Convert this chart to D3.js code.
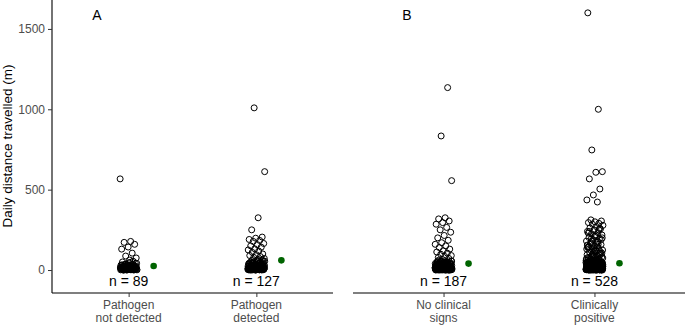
<!DOCTYPE html>
<html>
<head>
<meta charset="utf-8">
<script src="https://cdn.jsdelivr.net/npm/d3@7"></script>
<style>
  body { margin: 0; background: #fff; }
  svg { display: block; font-family: "Liberation Sans", Arial, sans-serif; }
</style>
</head>
<body>
<div id="chart"></div>
<script>
// categories per panel
const panelA = ["Pathogen\nnot detected", "Pathogen\ndetected"];
const panelB = ["No clinical\nsigns", "Clinically\npositive"];
const panelLabels = ["A", "B"];
const sampleSizes = [89, 127, 187, 528];
const groupMeans = [25, 60, 40, 42];
const yTicks = [0, 500, 1000, 1500];

// daily distance values (m); the dense low values are estimated
const notDetected = [567, 178, 172, 160, 143, 130, 105, 87, 75, 62,
  0, 0, 1, 1, 2, 2, 3, 3, 4, 4, 5, 5, 6, 6, 7, 7, 8, 8, 9, 9, 10, 10, 11, 12, 13, 14, 15, 16, 17, 18,
  19, 20, 21, 22, 24, 26, 28, 30, 33, 36, 40, 45, 50, 55, 0, 1, 2, 3, 4, 5, 6, 7, 8, 9, 10, 12, 14,
  16, 18, 20, 23, 26, 29, 32, 35, 38, 42, 47, 0, 2, 4, 6, 8, 11, 14, 17, 21, 25, 31];
const detected = [1009, 612, 325, 250, 205, 198, 190, 184, 178, 165, 158, 150, 142, 132, 125, 118,
  110, 100, 95, 90, 84, 78, 72, 66,
  0, 0, 0, 1, 1, 1, 2, 2, 2, 3, 3, 3, 4, 4, 4, 5, 5, 5, 6, 6, 6, 7, 7, 8, 8, 9, 9, 10, 10, 11, 11,
  12, 12, 13, 13, 14, 15, 16, 17, 18, 19, 20, 21, 22, 23, 24, 25, 26, 27, 28, 29, 30, 31, 32, 33,
  34, 35, 36, 38, 40, 42, 44, 46, 48, 50, 52, 55, 58, 60, 62, 0, 1, 2, 3, 4, 5, 6, 7, 8, 9, 10, 12,
  14, 16, 18, 20, 22, 25, 28, 31, 34, 37, 41, 45, 49, 53, 57, 2, 5, 8, 11, 15, 19, 24, 30, 36, 43];
const noSigns = [1135, 834, 556, 325, 318, 305, 295, 285, 265, 250, 235, 215, 200, 185, 170, 160,
  150, 140, 130, 120, 112, 105, 98, 90, 84, 78, 72, 66,
  0, 0, 0, 0, 1, 1, 1, 1, 2, 2, 2, 2, 3, 3, 3, 3, 4, 4, 4, 5, 5, 5, 6, 6, 6, 7, 7, 7, 8, 8, 8, 9, 9,
  9, 10, 10, 10, 11, 11, 12, 12, 13, 13, 14, 14, 15, 15, 16, 16, 17, 17, 18, 18, 19, 19, 20, 20, 21,
  22, 23, 24, 25, 26, 27, 28, 29, 30, 31, 32, 33, 34, 35, 36, 37, 38, 39, 40, 42, 44, 46, 48, 50,
  52, 54, 56, 58, 60, 0, 1, 2, 3, 4, 5, 6, 7, 8, 9, 10, 11, 12, 13, 14, 15, 16, 18, 20, 22, 24, 26,
  28, 30, 33, 36, 39, 42, 45, 48, 51, 55, 0, 1, 2, 3, 4, 5, 6, 7, 8, 9, 10, 12, 14, 16, 18, 21, 24,
  27, 31, 35, 40, 46, 53, 1, 3, 5, 7, 9, 11, 13, 17, 22, 28];
const positive = [1600, 1000, 747, 612, 608, 567, 504, 467, 436, 423, 312, 305, 300, 295, 290, 285,
  278, 270, 262, 255, 248, 240, 232, 225, 218, 210, 202, 195, 188, 180, 172, 165, 158, 150, 143, 136,
  130, 124, 118, 112, 106, 100, 95, 90, 85, 80, 76, 72, 68, 64, 60, 57, 54, 51,
  120, 140, 160, 180, 200, 220, 240, 260, 110, 130, 150, 170, 190, 210, 230, 250, 95, 75, 65, 55,
  115, 135, 155, 175, 195, 105, 125, 145, 92, 82, 70, 62, 58, 98, 88, 78, 66, 61,
  0, 0, 0, 0, 0, 1, 1, 1, 1, 1, 2, 2, 2, 2, 3, 3, 3, 3, 4, 4, 4, 4, 5, 5, 5, 5, 6, 6, 6, 6, 7, 7, 7,
  8, 8, 8, 9, 9, 9, 10, 10, 10, 11, 11, 11, 12, 12, 12, 13, 13, 14, 14, 15, 15, 16, 16, 17, 17, 18,
  18, 19, 19, 20, 20, 21, 21, 22, 22, 23, 24, 25, 26, 27, 28, 29, 30, 31, 32, 33, 34, 35, 36, 37,
  38, 39, 40, 41, 42, 43, 44, 45, 46, 47, 48, 49, 50, 0, 1, 2, 3, 4, 5, 6, 7, 8, 9, 10, 11, 12, 13,
  14, 15, 16, 17, 18, 19, 20, 22, 24, 26, 28, 30, 32, 34, 36, 38, 40, 42, 44, 46, 48, 50, 52, 0, 1,
  2, 3, 4, 5, 6, 7, 8, 9, 10, 12, 14, 16, 18, 20, 23, 26, 29, 32, 35, 38, 41, 44, 47, 0, 2, 4, 6, 8,
  10, 13, 16, 19, 22, 25, 29, 33, 37, 42, 1, 3, 5, 7, 9, 11, 14, 17, 21, 27, 34, 39, 45, 50, 53, 56];
const groups = [notDetected, detected, noSigns, positive];

const W = 685, H = 325;
const plotTop = 0, plotBottom = 293;

const svg = d3.select("#chart").append("svg")
  .attr("width", W)
  .attr("height", H);

const y = d3.scaleLinear().domain([-143, 1680]).range([plotBottom, plotTop]);

const panels = [
  { cats: panelA, x0: 52, x1: 333, groupOffset: 0, label: panelLabels[0], labelX: 97 },
  { cats: panelB, x0: 353, x1: 685, groupOffset: 2, label: panelLabels[1], labelX: 407 }
];

// y axis (left panel only)
svg.append("g")
  .attr("transform", "translate(52,0)")
  .call(d3.axisLeft(y).tickValues(yTicks).tickFormat(d3.format("d")).tickSize(4).tickPadding(3))
  .call(g => g.select(".domain").attr("d", `M0,${plotTop}V${plotBottom}`).attr("stroke", "#000").attr("stroke-width", 1.1))
  .call(g => g.selectAll(".tick line").attr("stroke", "#333"))
  .call(g => g.selectAll(".tick text").attr("fill", "#4d4d4d").style("font-size", "12px")
    .style("font-family", "Liberation Sans, Arial, sans-serif"));

svg.append("text")
  .attr("transform", `translate(12,146) rotate(-90)`)
  .attr("text-anchor", "middle")
  .style("font-size", "13.5px")
  .text("Daily distance travelled (m)");

const labelLayer = svg.append("g");

panels.forEach(p => {
  const x = d3.scalePoint().domain(p.cats).range([p.x0, p.x1]).padding(0.6);

  // x axis
  const ax = svg.append("g")
    .attr("transform", `translate(0,${plotBottom})`)
    .call(d3.axisBottom(x).tickSize(4).tickFormat(""));
  ax.select(".domain").attr("d", `M${p.x0},0H${p.x1}`).attr("stroke", "#000").attr("stroke-width", 1.1);
  ax.selectAll(".tick line").attr("stroke", "#333");

  p.cats.forEach((c, ci) => {
    const cx = x(c);
    const gi = p.groupOffset + ci;
    const vals = groups[gi];

    // category label, two lines
    const t = svg.append("text")
      .attr("x", cx).attr("y", plotBottom + 16)
      .attr("text-anchor", "middle")
      .attr("fill", "#4d4d4d")
      .style("font-size", "12px");
    c.split("\n").forEach((line, li) => {
      t.append("tspan").attr("x", cx).attr("dy", li === 0 ? 0 : 12.5).text(line);
    });

    // jittered open circles (deterministic spread by index)
    svg.append("g").selectAll("circle")
      .data(vals)
      .join("circle")
      .attr("cx", (d, i) => cx + (((i * 0.6180339 + gi * 0.37) % 1) - 0.5) * 17)
      .attr("cy", d => y(d))
      .attr("r", 3)
      .attr("fill", "none")
      .attr("stroke", "#000")
      .attr("stroke-width", 1);

    // mean
    svg.append("circle")
      .attr("cx", cx + 25)
      .attr("cy", y(groupMeans[gi]))
      .attr("r", 3.3)
      .attr("fill", "#006400");

    // sample size
    labelLayer.append("text")
      .attr("x", cx).attr("y", y(-100))
      .attr("text-anchor", "middle")
      .style("font-size", "14px")
      .text(`n = ${sampleSizes[gi]}`);
  });

  labelLayer.append("text")
    .attr("x", p.labelX).attr("y", 20)
    .attr("text-anchor", "middle")
    .style("font-size", "14px")
    .text(p.label);
});

labelLayer.raise();
</script>
</body>
</html>
